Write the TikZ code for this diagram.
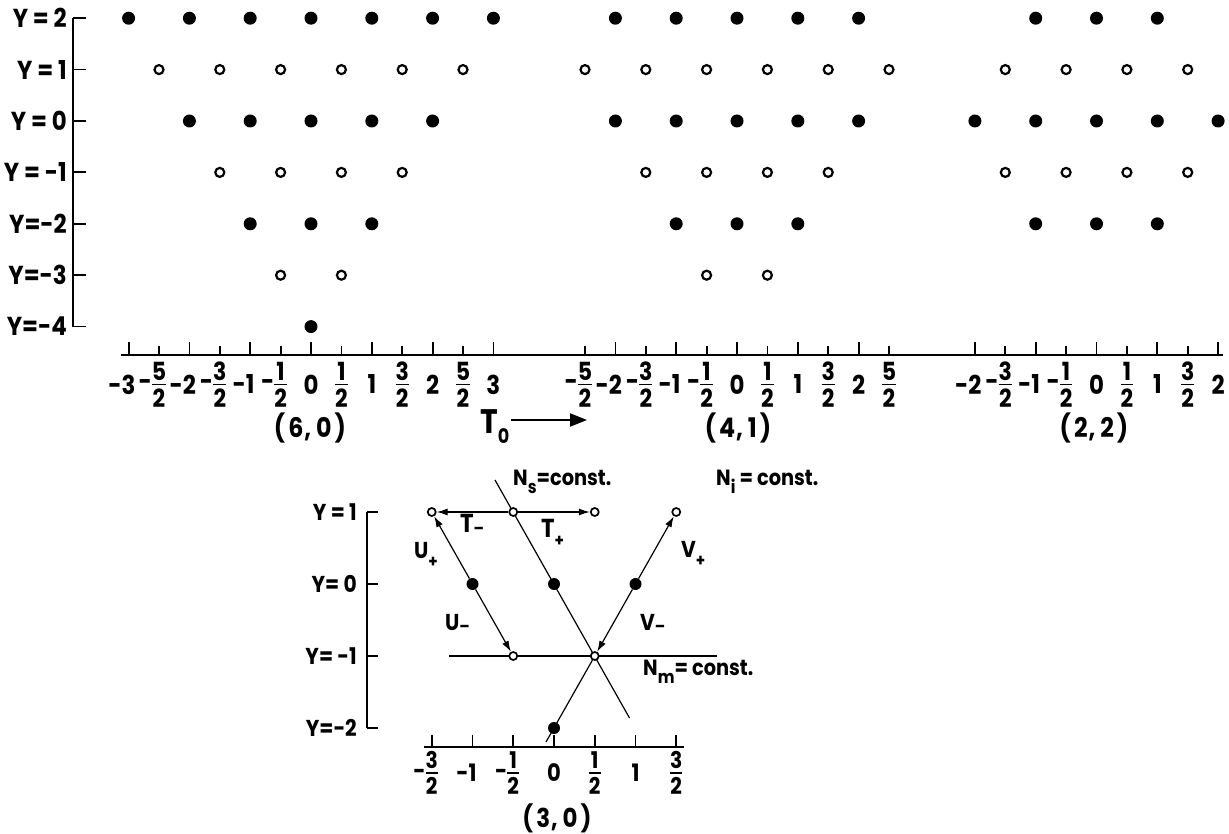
\documentclass[tikz,border=0pt]{standalone}
\usepackage{fontspec}
\setmainfont{Poppins}[FakeStretch=0.88]
\usetikzlibrary{arrows.meta,backgrounds}
\newcommand\frc[2]{$\vcenter{\offinterlineskip\halign{\hfil##\hfil\cr\vrule height\fontcharht\font`0 width 0pt #1\cr\noalign{\kern3.5pt\hrule height 1.5pt\kern3.5pt}\vrule height\fontcharht\font`0 width 0pt #2\cr}}$}
\newcommand\sbp{\raisebox{-9.5pt}{\fontsize{17}{17}\selectfont +}}
\newcommand\sbm{\raisebox{-2pt}{\fontsize{17}{17}\selectfont –}}
\newcommand\pl[2]{(\kern3pt#1\kern1pt,\kern5pt#2\kern3pt)}
\begin{document}
\begin{tikzpicture}[x=1pt,y=-1pt,
  fdot/.style={circle,fill=black,inner sep=0pt,minimum size=13pt},
  odot/.style={circle,draw=black,fill=white,line width=2.2pt,inner sep=0pt,minimum size=9pt},
  fdotb/.style={circle,fill=black,inner sep=0pt,minimum size=12pt},
  odotb/.style={circle,draw=black,fill=white,line width=1.7pt,inner sep=0pt,minimum size=8pt},
  axisline/.style={line width=2.2pt},
  tickline/.style={line width=1.8pt},
  thinline/.style={line width=1.2pt},
  arr/.style={line width=1.2pt,-{Latex[length=11pt,width=7pt]}},
  ylab/.style={anchor=east,inner sep=0pt,font=\fontsize{26}{26}\selectfont\bfseries},
  ylabb/.style={anchor=east,inner sep=0pt,font=\fontsize{23}{23}\selectfont\bfseries},
  toplab/.style={inner sep=0pt,font=\fontsize{26}{26}\selectfont\bfseries},
  botlab/.style={inner sep=0pt,font=\fontsize{24}{24}\selectfont\bfseries},
  panlab/.style={inner sep=0pt,font=\fontsize{27}{27}\selectfont\bfseries},
  txt/.style={inner sep=0pt,anchor=base west,font=\fontsize{23}{23}\selectfont\bfseries},
  ntxt/.style={inner sep=0pt,anchor=base west,font=\fontsize{22}{22}\selectfont\bfseries}
]
\useasboundingbox (0,0) rectangle (1229,834);

% ---------- top: Y axis ----------
\foreach \Y/\t in {2/{Y = 2},1/{Y = 1},0/{Y = 0},-1/{Y = -1},-2/{Y=-2},-3/{Y=-3},-4/{Y=-4}}{
  \node[ylab] (yl\Y) at (67,{121-51.4*\Y}) {\t};
  \coordinate (ya\Y) at (73,{121-51.4*\Y});
  \draw[tickline] (ya\Y) -- ++(13,0);
}
\draw[axisline] (ya2) -- (ya-4);

% ---------- top: x axis ----------
\coordinate (xl) at (121,355);
\coordinate (xr) at (1223,355);
\draw[axisline] (xl) -- (xr);
\foreach \pn/\xo/\M in {L/311/6, M/737/5, R/1096.5/4}{
  \pgfmathtruncatemacro\Mm{-\M}
  \foreach \m in {\Mm,...,\M}{
    \pgfmathtruncatemacro\am{abs(\m)}
    \pgfmathtruncatemacro\hm{\am/2}
    \ifodd\am\relax\def\tl{9}\else\def\tl{13}\fi
    \coordinate (t\pn\m) at ({\xo+30.4*\m},355);
    \draw[tickline] (t\pn\m) -- ++(0,-\tl);
    \node[toplab] (l\pn\m) at ({\xo+30.4*\m},384.5)
      {\ifnum\m<0 \llap{-}\fi\ifodd\am\relax{\fontsize{25}{25}\selectfont\frc{\am}{2}}\else\hm\fi};
  }
}

% ---------- top: dots ----------
\foreach \pn/\xo/\Y/\M in {L/311/2/6, L/311/1/5, L/311/0/4, L/311/-1/3, L/311/-2/2, L/311/-3/1,
   M/737/2/4, M/737/1/5, M/737/0/4, M/737/-1/3, M/737/-2/2, M/737/-3/1,
   R/1096.5/2/2, R/1096.5/1/3, R/1096.5/0/4, R/1096.5/-1/3, R/1096.5/-2/2}{
  \pgfmathtruncatemacro\Mm{-\M}
  \pgfmathtruncatemacro\Mn{-\M+2}
  \foreach \m in {\Mm,\Mn,...,\M}{
    \ifodd\Y\relax
      \node[odot] (d\pn\Y x\m) at ({\xo+30.4*\m},{121-51.4*\Y}) {};
    \else
      \node[fdot] (d\pn\Y x\m) at ({\xo+30.4*\m},{121-51.4*\Y}) {};
    \fi
  }
}
\node[fdot] (dL-4x0) at (311,{121+51.4*4}) {};

% ---------- panel labels and T0 ----------
\node[panlab] (p60) at (310,428) {\pl{6}{0}};
\node[panlab] (p41) at (738,428) {\pl{4}{1}};
\node[panlab] (p22) at (1094,428) {\pl{2}{2}};
\node[inner sep=0pt,anchor=base west,font=\fontsize{34}{34}\selectfont\bfseries] (t0) at (480,433)
  {T\raisebox{-10pt}{\fontsize{20}{20}\selectfont 0}};
\coordinate (t0s) at (511,420);
\coordinate (t0e) at (587,420);
\draw[line width=2pt,-{Triangle[length=17pt,width=13pt]}] (t0s) -- (t0e);

% ---------- bottom diagram ----------
\foreach \Y/\t in {1/{Y = 1},0/{Y= 0},-1/{Y= -1},-2/{Y=-2}}{
  \node[ylabb] (ylb\Y) at (357,{584-72*\Y}) {\t};
  \coordinate (yb\Y) at (367,{584-72*\Y});
  \draw[tickline] (yb\Y) -- ++(11,0);
}
\draw[line width=2pt] (yb1) -- (yb-2);

\coordinate (bxl) at (424,747);
\coordinate (bxr) at (684,747);
\draw[axisline] (bxl) -- (bxr);
\foreach \m in {-3,...,3}{
  \pgfmathtruncatemacro\am{abs(\m)}
  \pgfmathtruncatemacro\hm{\am/2}
  \coordinate (bt\m) at ({554+40.75*\m},747);
  \draw[tickline] (bt\m) -- ++(0,-12);
  \node[botlab] (bl\m) at ({554+40.75*\m},773)
    {\ifnum\m<0 \llap{-}\fi\ifodd\am\relax{\fontsize{23}{23}\selectfont\frc{\am}{2}}\else\hm\fi};
}
\node[panlab,font=\fontsize{26}{26}\selectfont\bfseries] (p30) at (557,818) {\pl{3}{0}};

% points
\node[odotb] (tl) at (431.75,512) {};
\node[odotb] (tc) at (513.25,512) {};
\node[odotb] (tr) at (594.75,512) {};
\node[odotb] (vp) at (676.25,512) {};
\node[fdotb] (u0) at (472.5,584) {};
\node[fdotb] (s0) at (554,584) {};
\node[fdotb] (v0) at (635.5,584) {};
\node[odotb] (um) at (513.25,656) {};
\node[odotb] (vm) at (594.75,656) {};
\node[fdotb] (b0) at (554,728) {};
\coordinate (nstop) at (495,480);
\coordinate (nsbot) at (629.5,718);
\coordinate (nml) at (449,656);
\coordinate (nmr) at (717,656);
\coordinate (vbot) at (546,742);

\begin{pgfonlayer}{background}
  \draw[thinline] (nstop) -- (nsbot);
  \draw[thinline] (nml) -- (nmr);
  \draw[thinline] (vbot) -- (vm);
\end{pgfonlayer}
\draw[arr] (tc) -- (tl);
\draw[arr] (tc) -- (tr);
\draw[arr] (u0) -- (tl);
\draw[arr] (u0) -- (um);
\draw[arr] (v0) -- (vp);
\draw[arr] (v0) -- (vm);

% labels
\node[txt,font=\fontsize{26}{26}\selectfont\bfseries] (lTm) at (460,532) {T\sbm};
\node[txt,font=\fontsize{26}{26}\selectfont\bfseries] (lTp) at (541,537) {T\sbp};
\node[txt] (lUp) at (414,558) {U\sbp};
\node[txt] (lUm) at (445,630) {U\sbm};
\node[txt] (lVp) at (681,557) {V\sbp};
\node[txt] (lVm) at (640,630) {V\sbm};
\node[ntxt] (lNs) at (513,485) {N\raisebox{-8pt}{\fontsize{18}{18}\selectfont s}=const.};
\node[ntxt] (lNi) at (716,485) {N\raisebox{-8pt}{\fontsize{18}{18}\selectfont i} = const.};
\node[ntxt] (lNm) at (643,675) {N\raisebox{-8pt}{\fontsize{18}{18}\selectfont m}= const.};
\end{tikzpicture}
\end{document}
